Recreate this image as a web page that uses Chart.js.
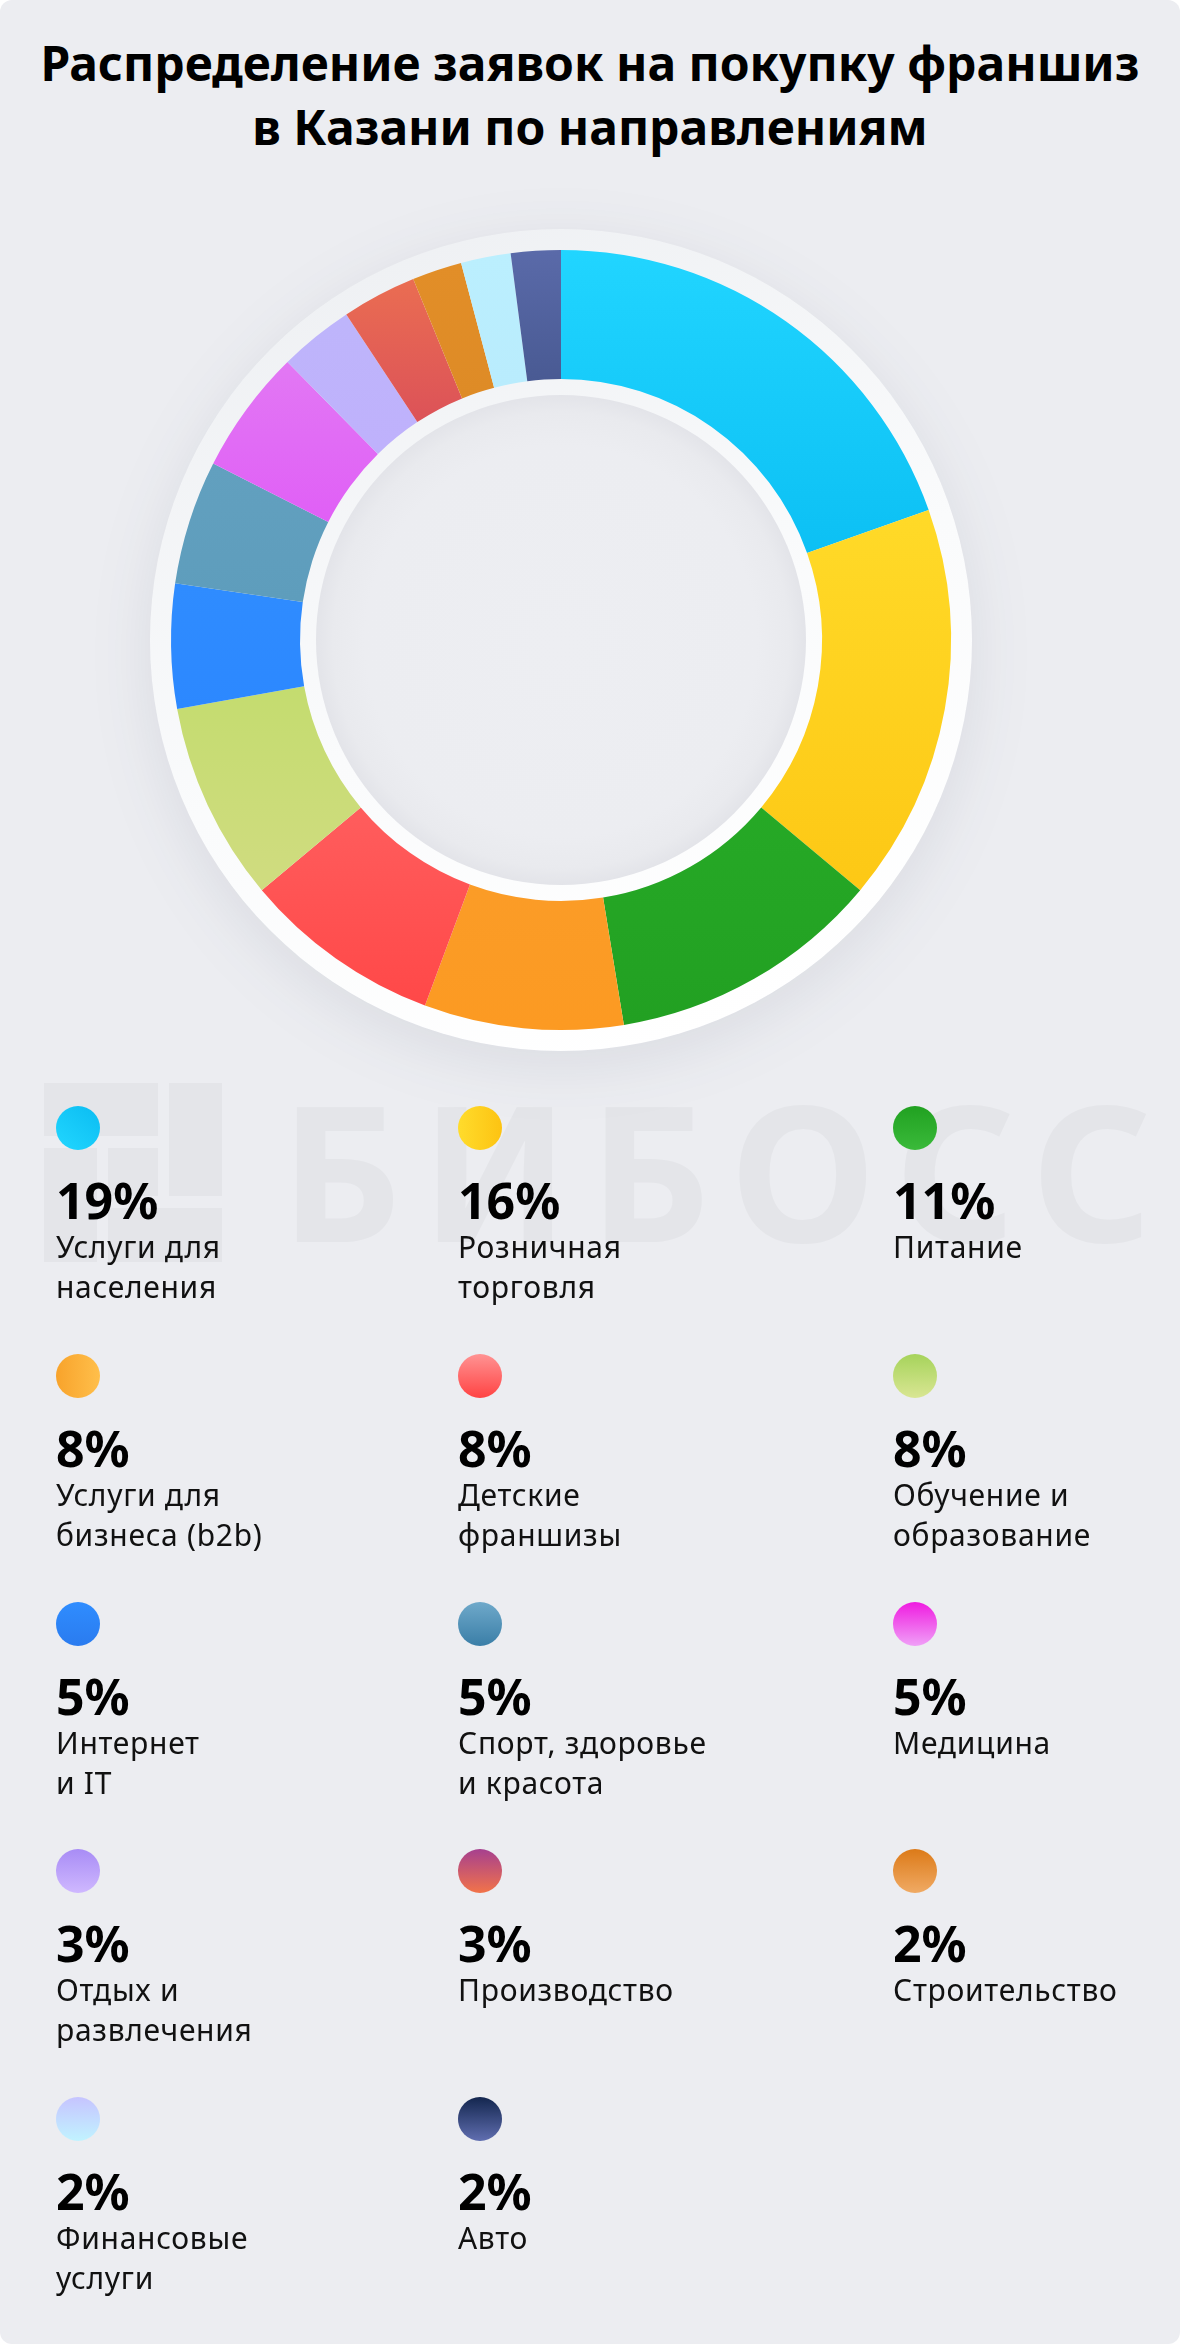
<!DOCTYPE html>
<html lang="ru">
<head>
<meta charset="utf-8">
<script src="https://cdn.jsdelivr.net/npm/chart.js@4.4.1/dist/chart.umd.min.js"></script>
<style>
  html, body { margin: 0; padding: 0; background: #ffffff; }
  .card {
    position: relative;
    width: 1180px;
    height: 2344px;
    background: #ecedf1;
    border-radius: 12px;
    overflow: hidden;
    font-family: "Noto Sans", "Open Sans", sans-serif;
    color: #000;
  }
  .title {
    position: absolute;
    left: 0; top: 31px; width: 1180px;
    text-align: center;
    font-size: 48px; font-weight: 700; line-height: 64px;
  }
  .wm-text {
    position: absolute;
    left: 280px; top: 1075px;
    font-size: 188px; font-weight: 700; line-height: 1;
    letter-spacing: 19px;
    color: #e4e5e9;
    white-space: nowrap;
  }
  .wm-box { position: absolute; background: #e4e5e9; }
  #chartWrap { position: absolute; left: 81px; top: 160px; width: 960px; height: 960px; }
  .item { position: absolute; width: 300px; height: 220px; }
  .dot { position: absolute; left: 0; top: 0; width: 44px; height: 44px; border-radius: 50%; }
  .pct { position: absolute; left: 0; top: 69px; font-size: 50px; font-weight: 700; line-height: 1; white-space: nowrap; }
  .lbl { position: absolute; left: 0; top: 121px; font-size: 30px; font-weight: 400; line-height: 40px; letter-spacing: 0.7px; color: #111; white-space: nowrap; }
</style>
</head>
<body>
<div class="card" id="card">
  <div class="title">Распределение заявок на покупку франшиз<br>в Казани по направлениям</div>

  <!-- водяной знак -->
  <div class="wm-box" style="left:44px;top:1083px;width:114px;height:53px"></div>
  <div class="wm-box" style="left:169px;top:1083px;width:53px;height:113px"></div>
  <div class="wm-box" style="left:108px;top:1148px;width:50px;height:48px"></div>
  <div class="wm-box" style="left:44px;top:1148px;width:53px;height:114px"></div>
  <div class="wm-box" style="left:108px;top:1208px;width:114px;height:54px"></div>
  <div class="wm-text">БИБОСС</div>

  <div id="chartWrap"><canvas id="donut" width="960" height="960"></canvas></div>
  <div id="legend"></div>
</div>

<script>
// данные
const labels = [
  ['Услуги для', 'населения'],
  ['Розничная', 'торговля'],
  ['Питание'],
  ['Услуги для', 'бизнеса (b2b)'],
  ['Детские', 'франшизы'],
  ['Обучение и', 'образование'],
  ['Интернет', 'и IT'],
  ['Спорт, здоровье', 'и красота'],
  ['Медицина'],
  ['Отдых и', 'развлечения'],
  ['Производство'],
  ['Строительство'],
  ['Финансовые', 'услуги'],
  ['Авто']
];
const values = [19, 16, 11, 8, 8, 8, 5, 5, 5, 3, 3, 2, 2, 2];
const pctLabels = values.map(v => v + '%');

// цвета сегментов (верх -> низ)
const segTop    = ['#21d5ff', '#ffda28', '#26a926', '#fb9c27', '#ff5d5d', '#c4dc6f', '#2f8cff', '#62a0bf', '#e278f4', '#beb5fb', '#ea6d52', '#e28e28', '#bbeffe', '#5a6aa9'];
const segBottom = ['#0cc0f4', '#fdc815', '#22a022', '#fc9a22', '#ff4848', '#d0dc80', '#2c88ff', '#5e9dbc', '#e05ff6', '#bfb1fc', '#dc5258', '#de8b26', '#b9ecfd', '#495a93'];

// цвета кружков легенды
const dotFrom  = ['#0bbcf2', '#ffdc2c', '#21a121', '#f8a32b', '#ff9393', '#a6d35b', '#2f8dff', '#6fa9ca', '#ef1be0', '#a88cf5', '#a6408f', '#dc7a18', '#c6c4ff', '#13264e'];
const dotTo    = ['#22d7ff', '#fdc312', '#3aba3a', '#ffbf4b', '#ff4343', '#d9e693', '#2a7bef', '#3a7ea7', '#f0a0f7', '#cfb8ff', '#f27349', '#f0aa64', '#c1f3ff', '#606eb0'];
const dotAngle = [220, 90, 180, 90, 180, 180, 180, 180, 180, 180, 180, 180, 180, 180];

// раскладка легенды
const colX = [56, 458, 893];
const rowC0 = 1128, rowStep = 247.8;

const legend = document.getElementById('legend');
labels.forEach(function (lines, i) {
  const col = i % 3, row = Math.floor(i / 3);
  const item = document.createElement('div');
  item.className = 'item';
  item.style.left = colX[col] + 'px';
  item.style.top = (rowC0 + row * rowStep - 22) + 'px';
  item.innerHTML =
    '<div class="dot" style="background:linear-gradient(' + dotAngle[i] + 'deg,' + dotFrom[i] + ',' + dotTo[i] + ')"></div>' +
    '<div class="pct">' + pctLabels[i] + '</div>' +
    '<div class="lbl">' + lines.join('<br>') + '</div>';
  legend.appendChild(item);
});

const CUTOUT = 261;
const total = values.reduce((a, b) => a + b, 0);

// вертикальный градиент по габаритам сегмента
function segGradient(context) {
  const i = context.dataIndex;
  const chart = context.chart;
  const area = chart.chartArea;
  if (!area || i === undefined) return segTop[i] || '#ccc';
  const cx = (area.left + area.right) / 2, cy = (area.top + area.bottom) / 2;
  const R = Math.min(area.width, area.height) / 2;
  let cum = 0;
  for (let k = 0; k < i; k++) cum += values[k];
  const a0 = -Math.PI / 2 + 2 * Math.PI * cum / total;
  const a1 = -Math.PI / 2 + 2 * Math.PI * (cum + values[i]) / total;
  let ymin = Infinity, ymax = -Infinity;
  for (let s = 0; s <= 24; s++) {
    const a = a0 + (a1 - a0) * s / 24;
    [R, CUTOUT].forEach(function (r) {
      const y = cy + r * Math.sin(a);
      ymin = Math.min(ymin, y); ymax = Math.max(ymax, y);
    });
  }
  if (ymax - ymin < 1) ymax = ymin + 1;
  const g = chart.ctx.createLinearGradient(0, ymin, 0, ymax);
  g.addColorStop(0, segTop[i]);
  g.addColorStop(1, segBottom[i]);
  return g;
}

// белые кольца и тень вокруг бублика
const ringPlugin = {
  id: 'rings',
  beforeDatasetsDraw(chart) {
    const arc = chart.getDatasetMeta(0).data[0];
    if (!arc) return;
    const x = arc.x, y = arc.y;
    const ro = arc.outerRadius + 21;
    const hole = arc.innerRadius - 16;
    const c = chart.ctx;
    c.save();
    c.shadowColor = 'rgba(40,50,80,0.09)';
    c.shadowBlur = 60;
    c.shadowOffsetY = 14;
    const g = c.createLinearGradient(x - ro * 0.5, y - ro, x + ro * 0.3, y + ro);
    g.addColorStop(0, '#eef0f3');
    g.addColorStop(0.55, '#fafbfc');
    g.addColorStop(1, '#ffffff');
    c.beginPath();
    c.arc(x, y, ro, 0, Math.PI * 2);
    c.fillStyle = g;
    c.fill();
    c.restore();

    c.save();
    const rg = c.createRadialGradient(x, y + 6, 0, x, y, hole);
    rg.addColorStop(0, '#edeef2');
    rg.addColorStop(0.8, '#ecedf1');
    rg.addColorStop(0.93, '#e9eaee');
    rg.addColorStop(1, '#e3e4e9');
    c.beginPath();
    c.arc(x, y, hole, 0, Math.PI * 2);
    c.fillStyle = rg;
    c.fill();
    c.restore();
  }
};

new Chart(document.getElementById('donut').getContext('2d'), {
  type: 'doughnut',
  data: {
    labels: labels.map(l => l.join(' ')),
    datasets: [{
      data: values,
      backgroundColor: segGradient,
      borderWidth: 0,
      hoverOffset: 0,
      offset: 0
    }]
  },
  options: {
    responsive: false,
    animation: false,
    cutout: CUTOUT,
    layout: { padding: 90 },
    events: [],
    plugins: {
      legend: { display: false },
      tooltip: { enabled: false }
    }
  },
  plugins: [ringPlugin]
});
</script>
</body>
</html>
